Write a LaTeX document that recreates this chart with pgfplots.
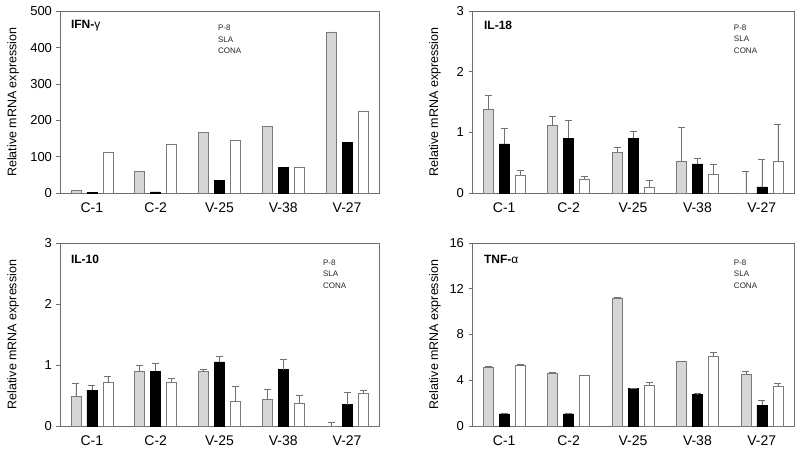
\documentclass[border=0pt]{standalone}
\usepackage{pgfplots}
\pgfplotsset{compat=1.18}
\usepackage{fontspec}
\setmainfont{Liberation Sans}
\definecolor{framegray}{HTML}{6E6E6E}
\definecolor{barg}{HTML}{D6D6D6}
\definecolor{baredge}{HTML}{7A7A7A}
\definecolor{errc}{HTML}{707070}
\tikzset{
  legnode/.style={anchor=north west, align=left, inner sep=0pt, font=\fontsize{8}{11.5}\selectfont, text=black!85},
  ttl/.style={anchor=west, inner sep=0pt, font=\fontsize{12}{14}\selectfont},
}
\pgfplotsset{
  panel/.style={
    scale only axis,
    xmin=0.5, xmax=5.5, ymin=0,
    xtick={1,2,3,4,5},
    xticklabels={C-1,C-2,V-25,V-38,V-27},
    axis line style={framegray, line width=0.7pt},
    xtick pos=bottom, ytick pos=left,
    tick align=outside,
    major tick length=3.5pt,
    ytick style={framegray, line width=0.7pt},
    xtick style={draw=none},
    /pgf/number format/assume math mode=true,
    yticklabel style={font=\fontsize{13}{15}\selectfont, xshift=-1pt},
    xticklabel style={font=\fontsize{14}{16}\selectfont, yshift=-3pt},
    ylabel={Relative mRNA expression},
    ylabel style={font=\fontsize{12.5}{14}\selectfont, anchor=center, rotate=0},
    ybar=6pt, bar width=10pt,
    clip=false,
  },
  p8/.style={fill=barg, draw=baredge, line width=0.6pt},
  sla/.style={fill=black, draw=black, line width=0.6pt},
  cona/.style={fill=white, draw=baredge, line width=0.6pt},
  eb/.style={error bars/.cd, y dir=plus, y explicit,
    error bar style={errc, line width=0.6pt},
    error mark options={rotate=90, errc, mark size=3.5pt, line width=0.6pt}},
}
\begin{document}
\begin{tikzpicture}
\path[use as bounding box] (0,0) rectangle (800pt,448pt);
% Panel 1: IFN-gamma
\begin{axis}[panel, at={(60pt,255pt)}, anchor=south west,
  width=319pt, height=181.5pt, ymax=500, ytick={0,100,200,300,400,500},
  ylabel style={at={(axis description cs:-0.147,0.5)}}]
\addplot[p8] coordinates {(1,7) (2,60) (3,168) (4,184) (5,444)};
\addplot[sla] coordinates {(1,2) (2,3) (3,35) (4,71) (5,139)};
\addplot[cona] coordinates {(1,112) (2,134) (3,146) (4,71) (5,224)};
\node[ttl] at (axis description cs:0.034,0.922) {\textbf{IFN-}γ};
\node[legnode] at (axis description cs:0.495,0.925) {P-8\\SLA\\CONA};
\end{axis}
% Panel 2: IL-18
\begin{axis}[panel, at={(472pt,255pt)}, anchor=south west,
  width=322pt, height=182pt, ymax=3, ytick={0,1,2,3},
  ylabel style={at={(axis description cs:-0.115,0.5)}}]
\addplot[p8, eb] coordinates {(1,1.38) +- (0,0.23) (2,1.11) +- (0,0.15) (3,0.675) +- (0,0.085) (4,0.53) +- (0,0.56) (5,0) +- (0,0.36)};
\addplot[sla, eb] coordinates {(1,0.81) +- (0,0.25) (2,0.905) +- (0,0.295) (3,0.905) +- (0,0.105) (4,0.48) +- (0,0.10) (5,0.10) +- (0,0.45)};
\addplot[cona, eb] coordinates {(1,0.30) +- (0,0.08) (2,0.23) +- (0,0.05) (3,0.10) +- (0,0.11) (4,0.31) +- (0,0.17) (5,0.52) +- (0,0.61)};
\node[ttl] at (axis description cs:0.037,0.922) {\textbf{IL-18}};
\node[legnode] at (axis description cs:0.813,0.925) {P-8\\SLA\\CONA};
\end{axis}
% Panel 3: IL-10
\begin{axis}[panel, at={(60pt,22pt)}, anchor=south west,
  width=319pt, height=183pt, ymax=3, ytick={0,1,2,3},
  ylabel style={at={(axis description cs:-0.147,0.5)}}]
\addplot[p8, eb] coordinates {(1,0.48) +- (0,0.22) (2,0.89) +- (0,0.10) (3,0.89) +- (0,0.035) (4,0.43) +- (0,0.17) (5,0) +- (0,0.06)};
\addplot[sla, eb] coordinates {(1,0.59) +- (0,0.07) (2,0.90) +- (0,0.12) (3,1.05) +- (0,0.09) (4,0.925) +- (0,0.17) (5,0.35) +- (0,0.21)};
\addplot[cona, eb] coordinates {(1,0.71) +- (0,0.10) (2,0.72) +- (0,0.07) (3,0.40) +- (0,0.25) (4,0.38) +- (0,0.13) (5,0.54) +- (0,0.045)};
\node[ttl] at (axis description cs:0.034,0.91) {\textbf{IL-10}};
\node[legnode] at (axis description cs:0.824,0.91) {P-8\\SLA\\CONA};
\end{axis}
% Panel 4: TNF-alpha
\begin{axis}[panel, at={(472pt,22pt)}, anchor=south west,
  width=322pt, height=183pt, ymax=16, ytick={0,4,8,12,16},
  ylabel style={at={(axis description cs:-0.115,0.5)}}]
\addplot[p8, eb] coordinates {(1,5.14) +- (0,0.04) (2,4.64) +- (0,0.04) (3,11.18) +- (0,0.04) (4,5.64) +- (0,0.04) (5,4.55) +- (0,0.2)};
\addplot[sla, eb] coordinates {(1,1.05) +- (0,0.1) (2,1.05) +- (0,0.08) (3,3.27) +- (0,0.06) (4,2.77) +- (0,0.06) (5,1.81) +- (0,0.43)};
\addplot[cona, eb] coordinates {(1,5.28) +- (0,0.09) (2,4.41) +- (0,0.03) (3,3.56) +- (0,0.24) (4,6.07) +- (0,0.35) (5,3.50) +- (0,0.26)};
\node[ttl] at (axis description cs:0.037,0.91) {\textbf{TNF-}α};
\node[legnode] at (axis description cs:0.813,0.91) {P-8\\SLA\\CONA};
\end{axis}
\end{tikzpicture}
\end{document}
